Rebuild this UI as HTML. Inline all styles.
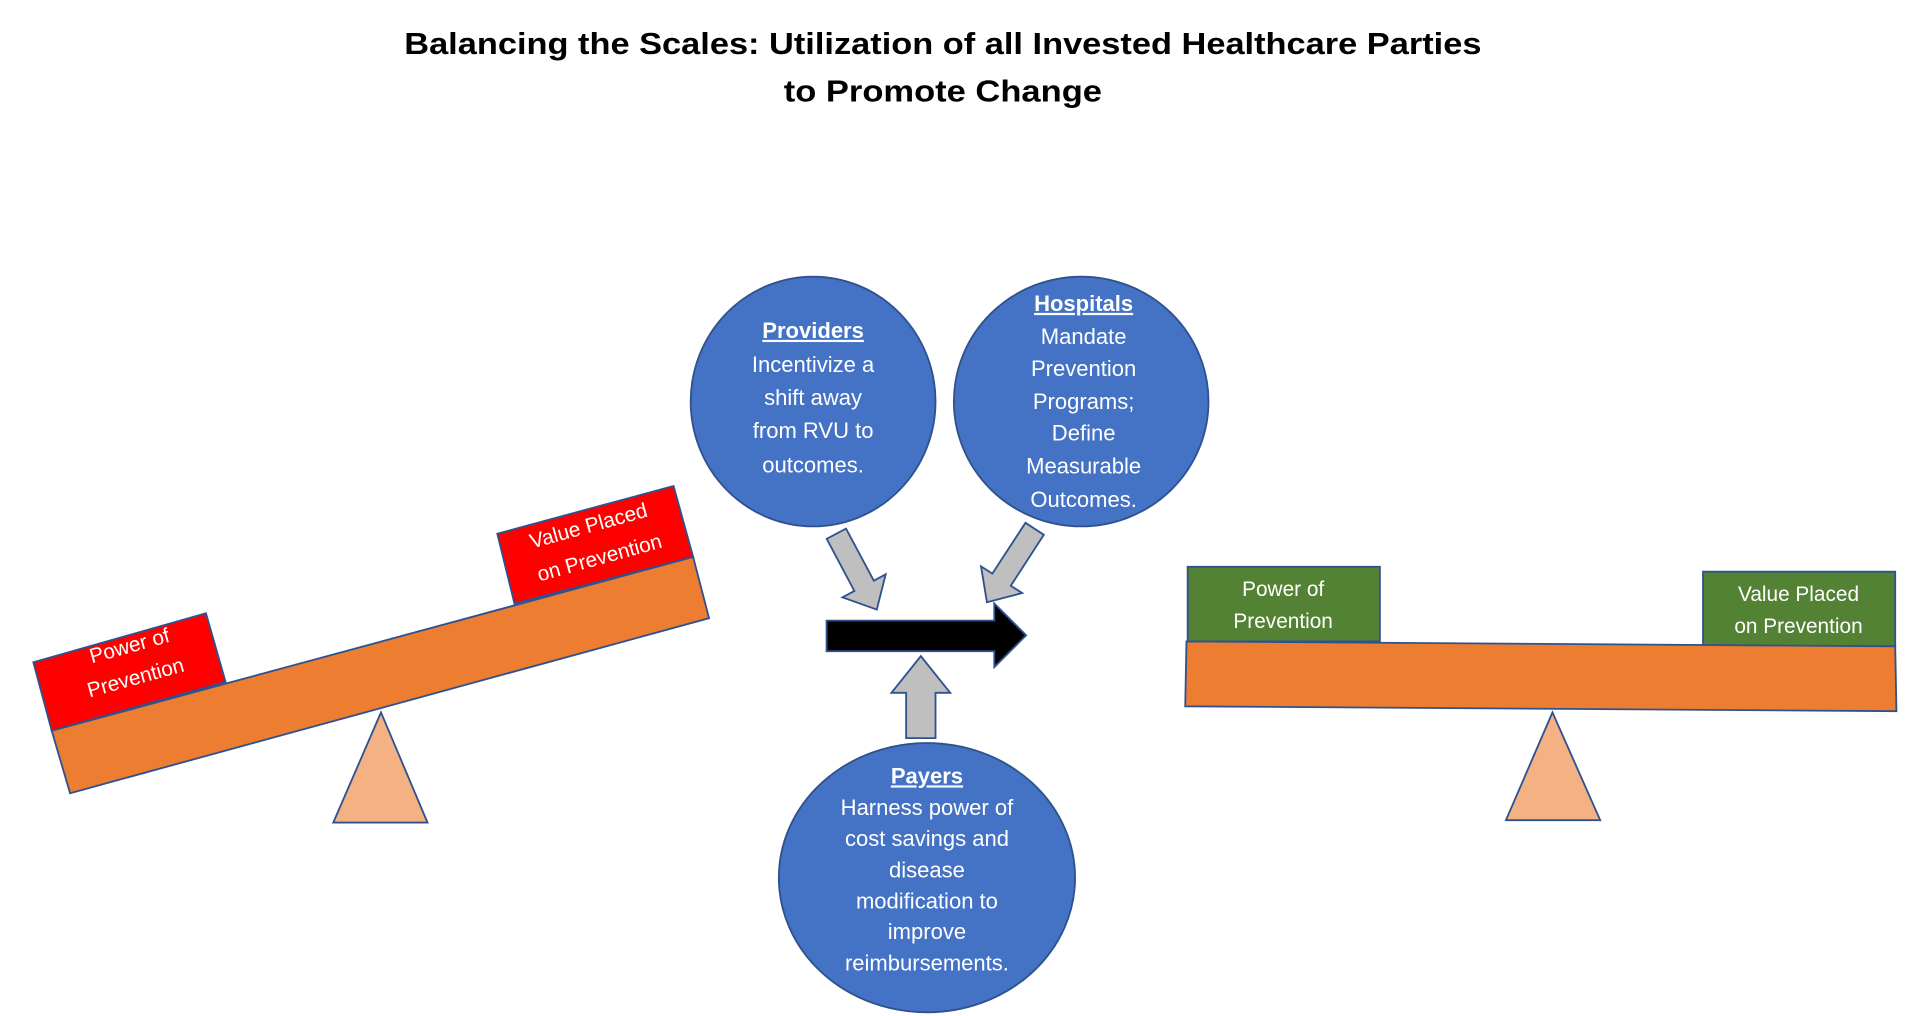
<!DOCTYPE html>
<html><head><meta charset="utf-8"><style>
html,body{margin:0;padding:0;background:#fff;width:1920px;height:1016px;overflow:hidden}
svg{display:block}
text{font-family:"Liberation Sans",sans-serif}
</style></head><body>
<svg id="s" width="1920" height="1016" viewBox="0 0 1568 830" xmlns="http://www.w3.org/2000/svg">
<text x="770" y="44" text-anchor="middle" font-size="25" font-weight="bold" textLength="880" lengthAdjust="spacingAndGlyphs">Balancing the Scales: Utilization of all Invested Healthcare Parties</text>
<text x="770" y="83" text-anchor="middle" font-size="25" font-weight="bold" textLength="260" lengthAdjust="spacingAndGlyphs">to Promote Change</text>

<!-- left scale -->
<polygon points="27,541 168,501 184,557 42,597" fill="#FF0000" stroke="#2F528F" stroke-width="1.5"/>
<polygon points="406,436 550,397 566,455 420,493" fill="#FF0000" stroke="#2F528F" stroke-width="1.5"/>
<polygon points="42,597 566,455 579,505 57,648" fill="#ED7D31" stroke="#2F528F" stroke-width="1.5"/>
<polygon points="311,582 272,672 349,672" fill="#F4B183" stroke="#2F528F" stroke-width="1.5"/>
<g fill="#fff" font-size="17" text-anchor="middle">
<text transform="translate(107,533) rotate(-15.5)">Power of</text>
<text transform="translate(112,559) rotate(-15.5)">Prevention</text>
<text transform="translate(482,435) rotate(-15.5)">Value Placed</text>
<text transform="translate(491,461) rotate(-15.5)">on Prevention</text>
</g>

<!-- right scale -->
<polygon points="970,463 1127,463 1127,524 970,524" fill="#548235" stroke="#2F528F" stroke-width="1.5"/>
<polygon points="1391,467 1548,467 1548,528 1391,528" fill="#548235" stroke="#2F528F" stroke-width="1.5"/>
<polygon points="969,524 1548,528 1549,581 968,577" fill="#ED7D31" stroke="#2F528F" stroke-width="1.5"/>
<polygon points="1268,582 1230,670 1307,670" fill="#F4B183" stroke="#2F528F" stroke-width="1.5"/>
<g fill="#fff" font-size="17" text-anchor="middle">
<text x="1048" y="487">Power of</text>
<text x="1048" y="513">Prevention</text>
<text x="1469" y="491">Value Placed</text>
<text x="1469" y="517">on Prevention</text>
</g>

<!-- circles -->
<g fill="#4472C4" stroke="#2F528F" stroke-width="1.5">
<ellipse cx="664" cy="328" rx="100" ry="102"/>
<ellipse cx="883" cy="328" rx="104" ry="102"/>
<ellipse cx="757" cy="717" rx="121" ry="110"/>
</g>
<g fill="#fff" font-size="18" text-anchor="middle">
<text x="664" y="276" font-weight="bold" text-decoration="underline">Providers</text>
<text x="664" y="304">Incentivize a</text>
<text x="664" y="331">shift away</text>
<text x="664" y="358">from RVU to</text>
<text x="664" y="386">outcomes.</text>
<text x="885" y="254" font-weight="bold" text-decoration="underline">Hospitals</text>
<text x="885" y="281">Mandate</text>
<text x="885" y="307">Prevention</text>
<text x="885" y="334">Programs;</text>
<text x="885" y="360">Define</text>
<text x="885" y="387">Measurable</text>
<text x="885" y="414">Outcomes.</text>
<text x="757" y="640" font-weight="bold" text-decoration="underline">Payers</text>
<text x="757" y="666">Harness power of</text>
<text x="757" y="691">cost savings and</text>
<text x="757" y="717">disease</text>
<text x="757" y="742">modification to</text>
<text x="757" y="767">improve</text>
<text x="757" y="793">reimbursements.</text>
</g>

<!-- black arrow -->
<polygon points="675,507 812,507 812,493 838,519 812,545 812,532 675,532" fill="#000" stroke="#2F528F" stroke-width="1.5"/>
<g id="arrows"></g>
</svg>
<script>
function arr(x1,y1,x2,y2,sw,hw,hl){
 var dx=x2-x1,dy=y2-y1,L=Math.hypot(dx,dy),ux=dx/L,uy=dy/L,px=-uy,py=ux;
 var bx=x2-ux*hl,by=y2-uy*hl;
 var p=[[x1+px*sw,y1+py*sw],[bx+px*sw,by+py*sw],[bx+px*hw,by+py*hw],[x2,y2],[bx-px*hw,by-py*hw],[bx-px*sw,by-py*sw],[x1-px*sw,y1-py*sw]];
 var e=document.createElementNS("http://www.w3.org/2000/svg","polygon");
 e.setAttribute("points",p.map(function(q){return q[0].toFixed(1)+","+q[1].toFixed(1)}).join(" "));
 e.setAttribute("fill","#BFBFBF");e.setAttribute("stroke","#2F528F");e.setAttribute("stroke-width","1.5");
 document.getElementById("arrows").appendChild(e);
}
arr(683,436,716,498,9,20,22);
arr(845,432,806,492,9,20,22);
arr(752,603,752,536,12,24,30);
</script>
</body></html>
